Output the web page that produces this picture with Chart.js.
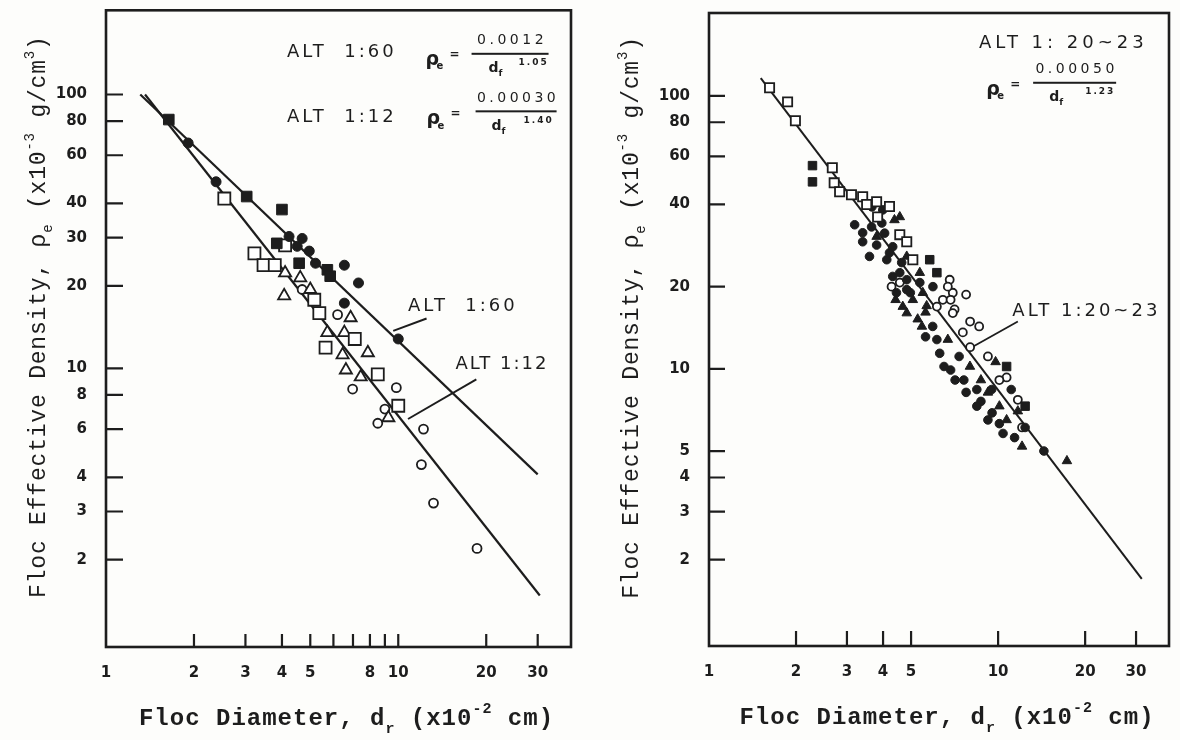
<!DOCTYPE html>
<html>
<head>
<meta charset="utf-8">
<title>Floc effective density vs floc diameter</title>
<script src="https://cdn.jsdelivr.net/npm/chart.js@4.4.1/dist/chart.umd.min.js"></script>
<style>
  html, body { margin: 0; padding: 0; background: #fdfdfb; }
  #page { position: relative; width: 1180px; height: 740px; overflow: hidden; }
  canvas { position: absolute; top: 0; }
</style>
</head>
<body>
<div id="page">
  <canvas id="leftChart" width="590" height="740" style="left:0"></canvas>
  <canvas id="rightChart" width="590" height="740" style="left:590px"></canvas>
</div>
<script>
var INK = '#1d1d1d';

//? axes
var xMin = 1, xMax = 39;
var leftYMin = 0.96, leftYMax = 203;
var rightYMin = 0.966, rightYMax = 201;
var leftXTicks = [1, 2, 3, 4, 5, 6, 7, 8, 9, 10, 20, 30];
var leftXLabels = [1, 2, 3, 4, 5, 8, 10, 20, 30];
var leftYTicks = [2, 3, 4, 6, 8, 10, 20, 30, 40, 60, 80, 100];
var rightXTicks = [1, 2, 3, 4, 5, 10, 20, 30];
var rightYTicks = [2, 3, 4, 5, 10, 20, 40, 60, 80, 100];

//? left panel: ALT 1:60 (filled marks)
var l60SquareX = [1.64, 3.03, 4.0, 3.84, 4.58, 5.72, 5.85];
var l60SquareY = [81, 42.4, 38, 28.6, 24.2, 22.9, 21.7];
var l60CircleX = [1.91, 2.38, 4.23, 4.69, 4.51, 4.96, 5.21, 6.54, 7.31, 6.54, 10.0];
var l60CircleY = [66.5, 48, 30.3, 29.8, 27.9, 26.8, 24.2, 23.8, 20.5, 17.3, 12.8];
var l60LineX = [1.31, 30.0];
var l60LineY = [100, 4.1];

//? left panel: ALT 1:12 (open marks)
var l12SquareX = [2.54, 3.22, 3.46, 3.78, 4.10, 5.16, 5.37, 7.10, 5.64, 8.51, 10.0];
var l12SquareY = [41.7, 26.3, 23.8, 23.8, 28.1, 17.8, 15.9, 12.8, 11.9, 9.5, 7.3];
var l12TriX = [4.10, 4.62, 4.07, 5.0, 6.87, 5.72, 6.54, 6.45, 7.87, 6.62, 7.44, 9.25];
var l12TriY = [22.3, 21.4, 18.4, 19.4, 15.3, 13.5, 13.5, 11.2, 11.4, 9.86, 9.3, 6.6];
var l12CircleX = [4.69, 6.20, 6.98, 9.85, 9.0, 8.51, 12.2, 12.0, 13.2, 18.6];
var l12CircleY = [19.4, 15.7, 8.4, 8.5, 7.1, 6.3, 6.0, 4.45, 3.22, 2.2];
var l12LineX = [1.36, 30.5];
var l12LineY = [100, 1.48];

//? right panel: ALT 1:20~23
var rOpenSqX = [1.62, 1.87, 1.99, 2.67, 2.71, 2.83, 3.11, 3.40, 3.80, 4.21, 3.83, 4.57, 4.83, 5.07, 3.51];
var rOpenSqY = [107, 95, 81, 54.5, 48, 44.5, 43.4, 42.7, 40.9, 39.3, 36.0, 31.0, 29.2, 25.1, 40.0];
var rFillSqX = [2.28, 2.28, 5.80, 6.14, 10.7, 12.4];
var rFillSqY = [55.5, 48.4, 25.1, 22.5, 10.2, 7.3];
var rFillCircX = [3.19, 3.65, 4.05, 3.40, 3.80, 4.32, 3.59, 4.12, 4.64, 4.32, 4.83, 4.45, 5.36, 4.97,
    5.61, 6.28, 6.85, 7.61, 8.44, 8.72, 9.53, 10.1, 12.4, 14.4, 7.33, 5.94,
    3.66, 3.99, 3.96, 3.40, 4.21, 4.57, 5.95, 4.83, 6.14, 6.50, 7.10, 7.75, 8.44, 9.22, 10.4, 11.4, 9.5, 11.1];
var rFillCircY = [33.7, 33.1, 31.4, 29.2, 28.4, 28.0, 25.8, 25.1, 24.5, 21.8, 21.2, 19.0, 20.7, 19.0,
    13.1, 11.4, 9.9, 9.1, 8.4, 7.6, 6.9, 6.3, 6.1, 5.0, 11.1, 14.3,
    39.2, 38.2, 34.2, 31.5, 26.6, 22.5, 20.0, 19.5, 12.8, 10.2, 9.1, 8.2, 7.3, 6.5, 5.8, 5.6, 8.4, 8.4];
var rFillTriX = [4.38, 5.07, 5.66, 5.61, 5.27, 6.70, 7.99, 8.72, 9.22, 10.1, 10.7, 12.1, 17.3, 4.68,
    4.57, 3.80, 4.83, 5.36, 5.49, 4.42, 4.83, 5.45, 11.7, 9.8];
var rFillTriY = [35.1, 17.9, 17.0, 16.1, 15.2, 12.8, 10.2, 9.1, 8.2, 7.3, 6.5, 5.2, 4.6, 16.9,
    36.0, 30.5, 25.8, 22.5, 19.0, 17.9, 16.0, 14.3, 7.0, 10.6];
var rOpenCircX = [6.44, 6.97, 6.80, 7.07, 7.75, 8.0, 8.6, 10.7, 10.1, 11.7, 12.1, 6.7, 4.28, 4.57,
    6.14, 6.97, 6.85, 8.0, 9.22, 7.55];
var rOpenCircY = [17.9, 19.0, 21.2, 16.5, 18.7, 14.9, 14.3, 9.3, 9.1, 7.7, 6.1, 20.0, 20.0, 20.7,
    16.9, 16.0, 17.9, 12.0, 11.1, 13.6];
var rLineX = [1.51, 31.4];
var rLineY = [116, 1.70];

//? leader lines from the labels to the fitted lines
var l60LeaderX = [9.61, 12.5], l60LeaderY = [13.7, 15.2];
var l12LeaderX = [10.8, 18.5], l12LeaderY = [6.53, 9.12];
var rLeaderX = [8.0, 11.7], rLeaderY = [11.9, 14.9];

function pts(xs, ys) {
    return xs.map(function (x, i) { return { x: x, y: ys[i] }; });
}

function marks(xs, ys, style, r, filled) {
    return {
        data: pts(xs, ys),
        pointStyle: style,
        pointRadius: r,
        backgroundColor: filled ? INK : '#fff',
        borderColor: INK,
        borderWidth: filled ? 1 : 1.8,
        order: 1
    };
}

function fitLine(xs, ys, w) {
    return {
        data: pts(xs, ys),
        showLine: true,
        pointRadius: 0,
        borderColor: INK,
        borderWidth: w,
        order: 2
    };
}

// text with sub/superscripts, segs = [[text, level]]
function drawRich(ctx, segs, x, y, size, tpl, spacing) {
    ctx.letterSpacing = spacing + 'px';
    var parts = segs.map(function (s) {
        var sz = s[1] ? Math.round(size * 0.62) : size;
        ctx.font = tpl.replace('#', sz);
        return {
            t: s[0], f: ctx.font, w: ctx.measureText(s[0]).width,
            dy: s[1] > 0 ? -size * 0.5 : (s[1] < 0 ? size * 0.32 : 0)
        };
    });
    var total = parts.reduce(function (a, p) { return a + p.w; }, 0);
    var cx = x - total / 2;
    ctx.textAlign = 'left';
    parts.forEach(function (p) {
        ctx.font = p.f;
        ctx.fillText(p.t, cx, y + p.dy);
        cx += p.w;
    });
    ctx.letterSpacing = '0px';
}

function drawFormula(ctx, px, py, f) {
    ctx.textBaseline = 'middle';
    ctx.textAlign = 'left';
    ctx.font = 'bold 19px "DejaVu Sans"';
    ctx.fillText('ρ', px, py + f.rho);
    ctx.font = 'bold 10px "DejaVu Sans"';
    ctx.fillText('e', px + 11, py + f.rho + 7);
    ctx.font = 'bold 12px "DejaVu Sans"';
    ctx.fillText('=', px + 24, py + f.rho - 5);
    ctx.fillRect(px + f.l, py - 1, f.w, 2);
    ctx.font = '14px "DejaVu Sans"';
    ctx.letterSpacing = '3.5px';
    ctx.textAlign = 'center';
    ctx.fillText(f.num, px + f.l + f.w / 2 + 2, py - 13);
    ctx.textAlign = 'left';
    ctx.letterSpacing = '0px';
    ctx.font = 'bold 14px "DejaVu Sans"';
    ctx.fillText('d', px + f.l + f.dx, py + 15);
    ctx.font = 'bold 9px "DejaVu Sans"';
    ctx.fillText('f', px + f.l + f.dx + 10, py + 20);
    ctx.letterSpacing = '2px';
    ctx.fillText(f.exp, px + f.l + f.ex, py + 9);
    ctx.letterSpacing = '0px';
}

function decor(cfg) {
    return {
        id: 'decor',
        afterDraw: function (chart) {
            var ctx = chart.ctx, a = chart.chartArea;
            var sx = chart.scales.x, sy = chart.scales.y;
            ctx.save();
            ctx.strokeStyle = INK;
            ctx.fillStyle = INK;
            ctx.lineWidth = 2.6;
            ctx.strokeRect(a.left, a.top, a.right - a.left, a.bottom - a.top);
            // inward tick marks
            ctx.lineWidth = 2.2;
            ctx.beginPath();
            cfg.xTicks.forEach(function (v) {
                if (v <= sx.min) return;
                var p = sx.getPixelForValue(v);
                ctx.moveTo(p, a.bottom);
                ctx.lineTo(p, a.bottom - cfg.xLen);
            });
            cfg.yTicks.forEach(function (v) {
                var p = sy.getPixelForValue(v);
                ctx.moveTo(a.left, p);
                ctx.lineTo(a.left + cfg.yLen, p);
            });
            ctx.stroke();

            ctx.textBaseline = 'middle';
            cfg.notes.forEach(function (n) {
                ctx.font = n.font;
                ctx.letterSpacing = n.spacing + 'px';
                ctx.textAlign = 'left';
                ctx.fillText(n.text, sx.getPixelForValue(n.x), sy.getPixelForValue(n.y));
            });
            ctx.letterSpacing = '0px';
            cfg.formulas.forEach(function (f) {
                drawFormula(ctx, sx.getPixelForValue(f.x), sy.getPixelForValue(f.y), f);
            });

            // axis titles
            ctx.textBaseline = 'alphabetic';
            drawRich(ctx, [['Floc Diameter, d', 0], ['r', -1], [' (x10', 0], ['-2', 1], [' cm)', 0]],
                (a.left + a.right) / 2 + 8, a.bottom + 78, 24, 'bold #px "Liberation Mono"', 1);
            ctx.save();
            ctx.translate(cfg.yTitleX, (a.top + a.bottom) / 2 - 12);
            ctx.rotate(-Math.PI / 2);
            drawRich(ctx, [['Floc Effective Density, ρ', 0], ['e', -1], [' (x10', 0], ['-3', 1],
                [' g/cm', 0], ['3', 1], [')', 0]], 0, 7, 23, '#px "Liberation Mono"', 0.8);
            ctx.restore();
            ctx.restore();
        }
    };
}

// the library pads the axes for half a label; the frame here is fixed instead
function noLabelPad(s) {
    s.paddingTop = 0;
    s.paddingBottom = 0;
    s.paddingLeft = 0;
    s.paddingRight = 0;
}

function makePanel(id, p) {
    var tickFont = { family: 'DejaVu Sans', weight: 'bold', size: 15 };
    return new Chart(document.getElementById(id), {
        type: 'scatter',
        data: { datasets: p.datasets },
        options: {
            responsive: false,
            animation: false,
            devicePixelRatio: 1,
            layout: { padding: { top: p.top, right: p.right, left: 0, bottom: 0 } },
            plugins: { legend: { display: false }, tooltip: { enabled: false } },
            scales: {
                x: {
                    type: 'logarithmic', min: xMin, max: xMax, bounds: 'data',
                    grid: { display: false, drawTicks: false }, border: { display: false },
                    afterBuildTicks: function (s) { s.ticks = p.xTicks.map(function (v) { return { value: v }; }); },
                    afterFit: function (s) { s.height = p.xAxisH; noLabelPad(s); },
                    ticks: {
                        autoSkip: false, maxRotation: 0, padding: 17, color: INK, font: tickFont,
                        callback: function (v) { return p.xLabels.indexOf(v) >= 0 ? String(v) : ''; }
                    }
                },
                y: {
                    type: 'logarithmic', min: p.yMin, max: p.yMax, bounds: 'data',
                    grid: { display: false, drawTicks: false }, border: { display: false },
                    afterBuildTicks: function (s) { s.ticks = p.yTicks.map(function (v) { return { value: v }; }); },
                    afterFit: function (s) { s.width = p.yAxisW; noLabelPad(s); },
                    ticks: {
                        autoSkip: false, padding: 19, color: INK, font: tickFont,
                        callback: function (v) { return String(v); }
                    }
                }
            }
        },
        plugins: [decor(p.decor)]
    });
}

var altFont = '18px "DejaVu Sans"';

makePanel('leftChart', {
    top: 5, right: 19, xAxisH: 93, yAxisW: 106,
    yMin: leftYMin, yMax: leftYMax,
    xTicks: leftXTicks, xLabels: leftXLabels, yTicks: leftYTicks,
    datasets: [
        fitLine(l60LineX, l60LineY, 2.2),
        fitLine(l12LineX, l12LineY, 2.2),
        fitLine(l60LeaderX, l60LeaderY, 2),
        fitLine(l12LeaderX, l12LeaderY, 2),
        marks(l60SquareX, l60SquareY, 'rect', 7.5, true),
        marks(l60CircleX, l60CircleY, 'circle', 5, true),
        marks(l12SquareX, l12SquareY, 'rect', 8.5, false),
        marks(l12TriX, l12TriY, 'triangle', 7, false),
        marks(l12CircleX, l12CircleY, 'circle', 4.5, false)
    ],
    decor: {
        xTicks: leftXTicks, yTicks: leftYTicks, xLen: 13, yLen: 17, yTitleX: 38,
        notes: [
            { text: 'ALT  1:60', x: 4.16, y: 142, font: altFont, spacing: 3 },
            { text: 'ALT  1:12', x: 4.16, y: 82.5, font: altFont, spacing: 3 },
            { text: 'ALT  1:60', x: 10.8, y: 16.9, font: altFont, spacing: 3 },
            { text: 'ALT 1:12', x: 15.7, y: 10.3, font: altFont, spacing: 2 }
        ],
        formulas: [
            { x: 12.4, y: 140.8, rho: 6, l: 46, w: 77, dx: 17, ex: 47, num: '0.0012', exp: '1.05' },
            { x: 12.5, y: 86.8, rho: 8, l: 49, w: 81, dx: 16, ex: 48, num: '0.00030', exp: '1.40' }
        ]
    }
});

makePanel('rightChart', {
    top: 13, right: 11, xAxisH: 94, yAxisW: 119,
    yMin: rightYMin, yMax: rightYMax,
    xTicks: rightXTicks, xLabels: rightXTicks, yTicks: rightYTicks,
    datasets: [
        fitLine(rLineX, rLineY, 2),
        fitLine(rLeaderX, rLeaderY, 1.8),
        marks(rOpenSqX, rOpenSqY, 'rect', 6.5, false),
        marks(rFillSqX, rFillSqY, 'rect', 6, true),
        marks(rFillCircX, rFillCircY, 'circle', 4.3, true),
        marks(rFillTriX, rFillTriY, 'triangle', 5.5, true),
        marks(rOpenCircX, rOpenCircY, 'circle', 4, false)
    ],
    decor: {
        xTicks: rightXTicks, yTicks: rightYTicks, xLen: 15, yLen: 16, yTitleX: 41,
        notes: [
            { text: 'ALT 1: 20~23', x: 8.59, y: 156, font: altFont, spacing: 4 },
            { text: 'ALT 1:20~23', x: 11.2, y: 16.2, font: altFont, spacing: 3 }
        ],
        formulas: [
            { x: 9.09, y: 111.6, rho: 7, l: 47, w: 83, dx: 16, ex: 52, num: '0.00050', exp: '1.23' }
        ]
    }
});
</script>
</body>
</html>
